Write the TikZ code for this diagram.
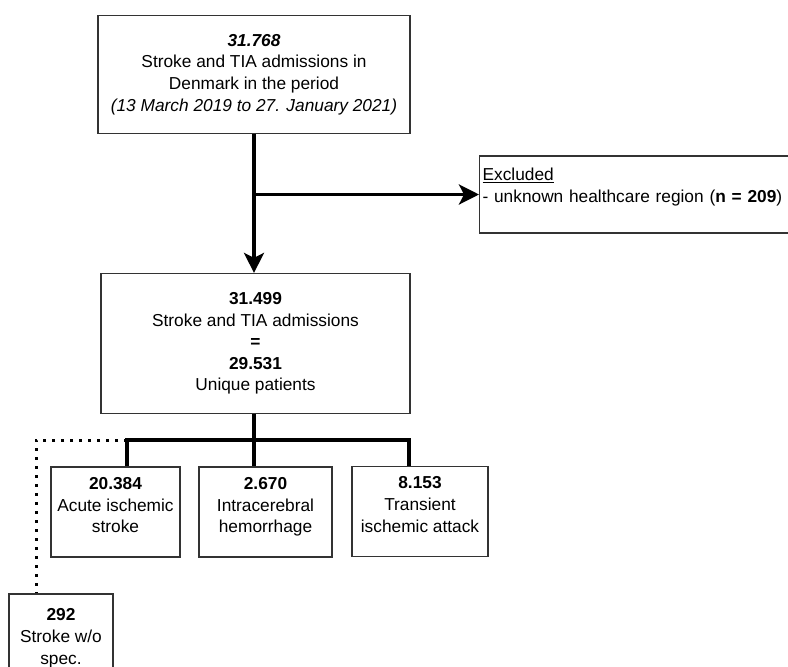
\documentclass[tikz,border=0pt]{standalone}
\usepackage{fontspec}
\setmainfont{Liberation Sans}
\usetikzlibrary{arrows.meta}

\tikzset{
  box/.style={draw=black!80, line width=1.2pt, align=center, inner sep=0pt,
    font=\fontsize{17.3}{21.6}\selectfont},
  leaf/.style={box, minimum height=90pt},
  link/.style={line width=3.5pt, line join=miter},
  headed/.style={-{Stealth[length=20pt,width=20pt,inset=5pt]}},
  dotline/.style={line width=3pt, dash pattern=on 3pt off 6pt},
}

\begin{document}
\begin{tikzpicture}[x=1pt,y=-1pt]
    \clip (0,0) rectangle (788,667);
    % ---- Admissions ----
    \node[box, minimum width=312pt, minimum height=118pt] (total) at (254,74.5)
      {\textbf{\textit{31.768}}\\Stroke and TIA admissions in\\Denmark in the period\\
       \textit{(13 March 2019 to 27. January 2021)}};
    \node[box, minimum width=309pt, minimum height=140pt] (included) at (255.5,343.5)
      {\textbf{31.499}\\Stroke and TIA admissions\\\textbf{=}\\\textbf{29.531}\\Unique patients};
    \node[box, anchor=west, minimum height=77pt, text width=420pt, align=left,
      inner xsep=3pt] (excluded) at (479,194.5)
      {\underline{Excluded}\\- unknown healthcare region (\textbf{n = 209})\\[-10pt]\strut};
    % ---- Subtypes ----
    \node[leaf, minimum width=129pt] (ais) at (115.5,512)
      {\textbf{20.384}\\Acute ischemic\\stroke\\[-14pt]\strut};
    \node[leaf, minimum width=133pt] (ich) at (265.5,512)
      {\textbf{2.670}\\Intracerebral\\hemorrhage\\[-14pt]\strut};
    \node[leaf, minimum width=136pt] (tia) at (420,511.5)
      {\textbf{8.153}\\Transient\\ischemic attack\\[-14pt]\strut};
    \node[box, minimum width=104pt, minimum height=103pt] (wospec) at (61,645.5)
      {\textbf{292}\\Stroke w/o\\spec.\\[-10pt]\strut};
    % ---- Connectors ----
    \draw[link, headed] (total.south) -- (total.south |- included.north);
    \coordinate (split) at (total.south |- excluded.west);
    \draw[link, headed] (split) -- (excluded.west);
    \coordinate (bus) at (254,440);
    \draw[link] (bus |- included.south) -- (bus);
    \draw[link] ([xshift=11.5pt]ais.north) |- (bus) -| ([xshift=-11pt]tia.north);
    \draw[link] (bus) -- (bus |- ich.north);
    \draw[dotline] ([xshift=11.5pt]ais.north |- bus) -| ([xshift=-25pt]wospec.north);
  \end{tikzpicture}
\end{document}
